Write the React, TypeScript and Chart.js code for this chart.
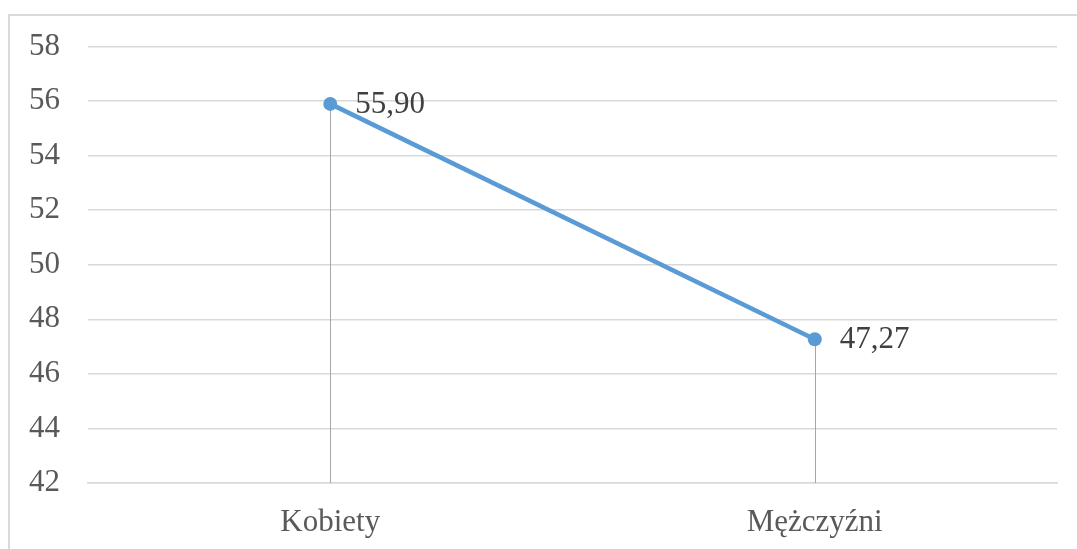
import React, { useEffect, useRef } from "react";
import { Chart, registerables } from "chart.js";

Chart.register(...registerables);

const categories = ["Kobiety", "Mężczyźni"];
const values = [55.9, 47.27];
const valueLabels = ["55,90", "47,27"];
const yMin = 42;
const yMax = 58;
const yStep = 2;

const FONT = "'Liberation Serif', 'Times New Roman', serif";

const dropLinesPlugin = {
  id: "dropLines",
  beforeDatasetsDraw(chart: any) {
    const { ctx, chartArea } = chart;
    const meta = chart.getDatasetMeta(0);
    ctx.save();
    ctx.strokeStyle = "#a6a6a6";
    ctx.lineWidth = 1;
    meta.data.forEach((pt: any) => {
      const x = Math.round(pt.x) + 0.5;
      ctx.beginPath();
      ctx.moveTo(x, pt.y);
      ctx.lineTo(x, chartArea.bottom);
      ctx.stroke();
    });
    ctx.restore();
  },
};

const dataLabelsPlugin = {
  id: "dataLabels",
  afterDatasetsDraw(chart: any) {
    const { ctx } = chart;
    const meta = chart.getDatasetMeta(0);
    ctx.save();
    ctx.fillStyle = "#404040";
    ctx.font = `31px ${FONT}`;
    ctx.textAlign = "left";
    ctx.textBaseline = "middle";
    meta.data.forEach((pt: any, i: number) => {
      ctx.fillText(valueLabels[i], pt.x + 25, pt.y + 1);
    });
    ctx.restore();
  },
};

export default function App() {
  const ref = useRef<HTMLCanvasElement>(null);
  useEffect(() => {
    if (!ref.current) return;
    const chart = new Chart(ref.current, {
      type: "line",
      data: {
        labels: categories,
        datasets: [
          {
            data: values,
            borderColor: "#5b9bd5",
            backgroundColor: "#5b9bd5",
            borderWidth: 4.5,
            pointRadius: 7,
            pointHoverRadius: 7,
            pointBorderWidth: 0,
            tension: 0,
          },
        ],
      },
      options: {
        responsive: false,
        animation: false,
        events: [],
        layout: { padding: { left: 0, right: 20, top: 45, bottom: 0 } },
        plugins: { legend: { display: false }, tooltip: { enabled: false } },
        scales: {
          x: {
            offset: true,
            grid: { display: false, drawTicks: false },
            border: { display: true, color: "#d9d9d9", width: 1.5 },
            ticks: {
              font: { family: FONT, size: 31 },
              color: "#595959",
              padding: 21,
              maxRotation: 0,
            },
            afterFit(scale: any) {
              scale.height = 66;
            },
          },
          y: {
            min: yMin,
            max: yMax,
            grid: { color: "#d9d9d9", lineWidth: 1.5, drawTicks: false },
            border: { display: false },
            ticks: {
              stepSize: yStep,
              font: { family: FONT, size: 31 },
              color: "#595959",
              padding: 28,
            },
            afterFit(scale: any) {
              scale.width = 88;
            },
          },
        },
      },
      plugins: [dropLinesPlugin, dataLabelsPlugin],
    });
    return () => chart.destroy();
  }, []);

  return (
    <div
      style={{
        position: "absolute",
        left: 0,
        top: 0,
        width: 1077,
        height: 549,
        overflow: "hidden",
        background: "#fff",
      }}
    >
      <div
        style={{
          position: "absolute",
          left: 8,
          top: 14,
          width: 1100,
          height: 600,
          border: "2px solid #d9d9d9",
        }}
      />
      <canvas
        ref={ref}
        width={1077}
        height={549}
        style={{ position: "absolute", left: 0, top: 0 }}
      />
    </div>
  );
}
